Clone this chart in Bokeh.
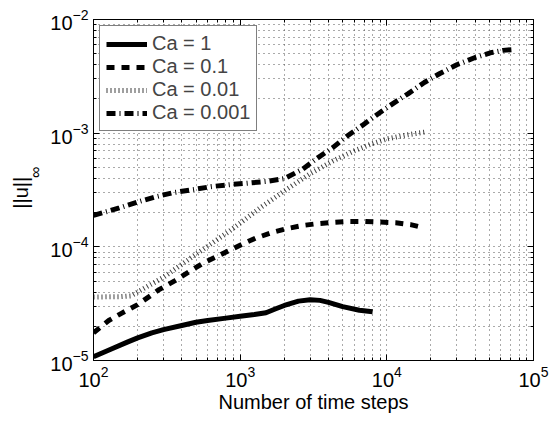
from bokeh.plotting import figure
from bokeh.models import (LogAxis, FixedTicker, Legend, LegendItem, Range1d,
                          CustomJSTickFormatter)
from bokeh.embed import file_html
from bokeh.resources import INLINE

# ---------------- data ----------------
steps_ca1 = [100, 130, 170, 200, 250, 300, 400, 500, 600, 800, 1000, 1250, 1500,
             1750, 2000, 2500, 3000, 3500, 4000, 5000, 6500, 8000]
u_ca1 = [1.08e-5, 1.25e-5, 1.45e-5, 1.58e-5, 1.75e-5, 1.87e-5, 2.03e-5, 2.17e-5,
         2.25e-5, 2.36e-5, 2.45e-5, 2.54e-5, 2.63e-5, 2.85e-5, 3.05e-5, 3.33e-5,
         3.43e-5, 3.38e-5, 3.25e-5, 2.98e-5, 2.77e-5, 2.68e-5]

steps_ca01 = [100, 127, 155, 200, 280, 360, 550, 830, 1040, 1270, 1660, 2100, 2660,
              3370, 4330, 5500, 7000, 9000, 11500, 14500, 17500]
u_ca01 = [1.75e-5, 2.25e-5, 2.6e-5, 3.1e-5, 4.2e-5, 5.05e-5, 7.1e-5, 9.2e-5, 1.06e-4,
          1.19e-4, 1.34e-4, 1.45e-4, 1.54e-4, 1.60e-4, 1.64e-4, 1.67e-4, 1.67e-4,
          1.65e-4, 1.63e-4, 1.57e-4, 1.48e-4]

steps_ca001 = [100, 150, 180, 200, 300, 500, 850, 1400, 2000, 3000, 4300, 6000,
               8000, 10000, 14000, 18000]
u_ca001 = [3.62e-5, 3.64e-5, 3.7e-5, 4.0e-5, 5.4e-5, 8.6e-5, 1.38e-4, 2.25e-4,
           3.1e-4, 4.4e-4, 5.7e-4, 7.0e-4, 8.1e-4, 8.9e-4, 9.7e-4, 1.02e-3]

steps_ca0001 = [100, 150, 200, 270, 350, 480, 640, 860, 1100, 1500, 2000, 2650, 3400,
                4300, 5400, 6800, 8600, 11000, 14000, 18000, 23000, 30000, 40000,
                52000, 62000, 75000]
u_ca0001 = [1.89e-4, 2.2e-4, 2.48e-4, 2.77e-4, 3.0e-4, 3.19e-4, 3.39e-4, 3.53e-4,
            3.62e-4, 3.76e-4, 3.98e-4, 4.8e-4, 6.1e-4, 7.5e-4, 9.5e-4, 1.17e-3,
            1.46e-3, 1.82e-3, 2.23e-3, 2.79e-3, 3.35e-3, 4.0e-3, 4.63e-3, 5.13e-3,
            5.35e-3, 5.45e-3]

labels = ["Ca = 1", "Ca = 0.1", "Ca = 0.01", "Ca = 0.001"]

x_major = [1e2, 1e3, 1e4, 1e5]
y_major = [1e-5, 1e-4, 1e-3, 1e-2]
x_minor = [m * 10 ** e for e in range(2, 5) for m in range(2, 10)]
y_minor = [m * 10.0 ** e for e in range(-5, -2) for m in range(2, 10)]

FONT = "Liberation Sans"

p = figure(width=550, height=421, x_axis_type="log", y_axis_type="log",
           x_range=Range1d(1e2, 1e5), y_range=Range1d(1e-5, 1e-2),
           output_backend="svg", toolbar_location=None,
           min_border_left=93, min_border_right=17, min_border_top=19,
           min_border_bottom=61)
p.background_fill_color = "white"
p.border_fill_color = "white"
p.outline_line_color = "black"
p.outline_line_width = 1

xt = FixedTicker(ticks=x_major, minor_ticks=x_minor)
yt = FixedTicker(ticks=y_major, minor_ticks=y_minor)

for ax, t in ((p.xaxis[0], xt), (p.yaxis[0], yt)):
    ax.ticker = t
    ax.major_tick_in = 6
    ax.major_tick_out = 0
    ax.minor_tick_in = 3
    ax.minor_tick_out = 0
    ax.axis_line_color = "black"
    ax.major_tick_line_color = "black"
    ax.minor_tick_line_color = "black"
    ax.major_label_text_font = FONT
    ax.major_label_text_font_size = "20px"
    ax.major_label_text_color = "black"
    ax.major_label_standoff = 5

p.xaxis.axis_label = "Number of time steps"
p.xaxis.axis_label_text_font = FONT
p.xaxis.axis_label_text_font_size = "20px"
p.xaxis.axis_label_text_font_style = "normal"
p.xaxis.axis_label_text_color = "black"
p.xaxis.axis_label_standoff = 1

blank = CustomJSTickFormatter(code="return ''")
top = LogAxis(ticker=xt, formatter=blank, major_tick_in=6, major_tick_out=0,
              minor_tick_in=3, minor_tick_out=0, major_label_standoff=0)
right = LogAxis(ticker=yt, formatter=blank, major_tick_in=6, major_tick_out=0,
                minor_tick_in=3, minor_tick_out=0, major_label_standoff=0)
p.add_layout(top, "above")
p.add_layout(right, "right")


def label_axis(text, size, standoff):
    return LogAxis(ticker=FixedTicker(ticks=[]), formatter=blank,
                   axis_line_color=None, major_tick_line_color=None,
                   minor_tick_line_color=None, major_tick_in=0, major_tick_out=0,
                   minor_tick_in=0, minor_tick_out=0, major_label_standoff=0,
                   axis_label=text, axis_label_text_font=FONT,
                   axis_label_text_font_size=size, axis_label_text_font_style="normal",
                   axis_label_text_color="black", axis_label_standoff=standoff)


# y label ||u||_inf : subscript then main text, stacked outward from the frame
p.add_layout(label_axis("\u00a0" * 8 + "\u221e", "16px", 4), "left")
p.add_layout(label_axis("||u||\u00a0", "20px", -8), "left")

for g in (p.xgrid[0], p.ygrid[0]):
    g.grid_line_color = "#555555"
    g.grid_line_dash = "1 4"
    g.grid_line_width = 1
    g.minor_grid_line_color = "#555555"
    g.minor_grid_line_dash = "1 4"
    g.minor_grid_line_width = 1
p.xgrid.ticker = xt
p.ygrid.ticker = yt

r1 = p.line(steps_ca1, u_ca1, line_color="black", line_width=5, line_join="round")
r2 = p.line(steps_ca01, u_ca01, line_color="black", line_width=5, line_dash="8 7")
r3 = p.line(steps_ca001, u_ca001, line_color="black", line_width=5, line_dash="1 3",
            line_alpha=0.75)
r4 = p.line(steps_ca0001, u_ca0001, line_color="black", line_width=5,
            line_dash="9 4 1 4")

legend = Legend(items=[LegendItem(label=l, renderers=[r]) for l, r in
                       zip(labels, [r1, r2, r3, r4])],
                location="top_left", margin=6, padding=6, spacing=0,
                glyph_width=41, glyph_height=20, label_height=20, label_standoff=5,
                label_text_font=FONT, label_text_font_size="20px",
                border_line_color="black", border_line_width=1,
                background_fill_color="white", background_fill_alpha=1)
p.add_layout(legend, "center")

open("out.html", "w").write(file_html(p, INLINE))
